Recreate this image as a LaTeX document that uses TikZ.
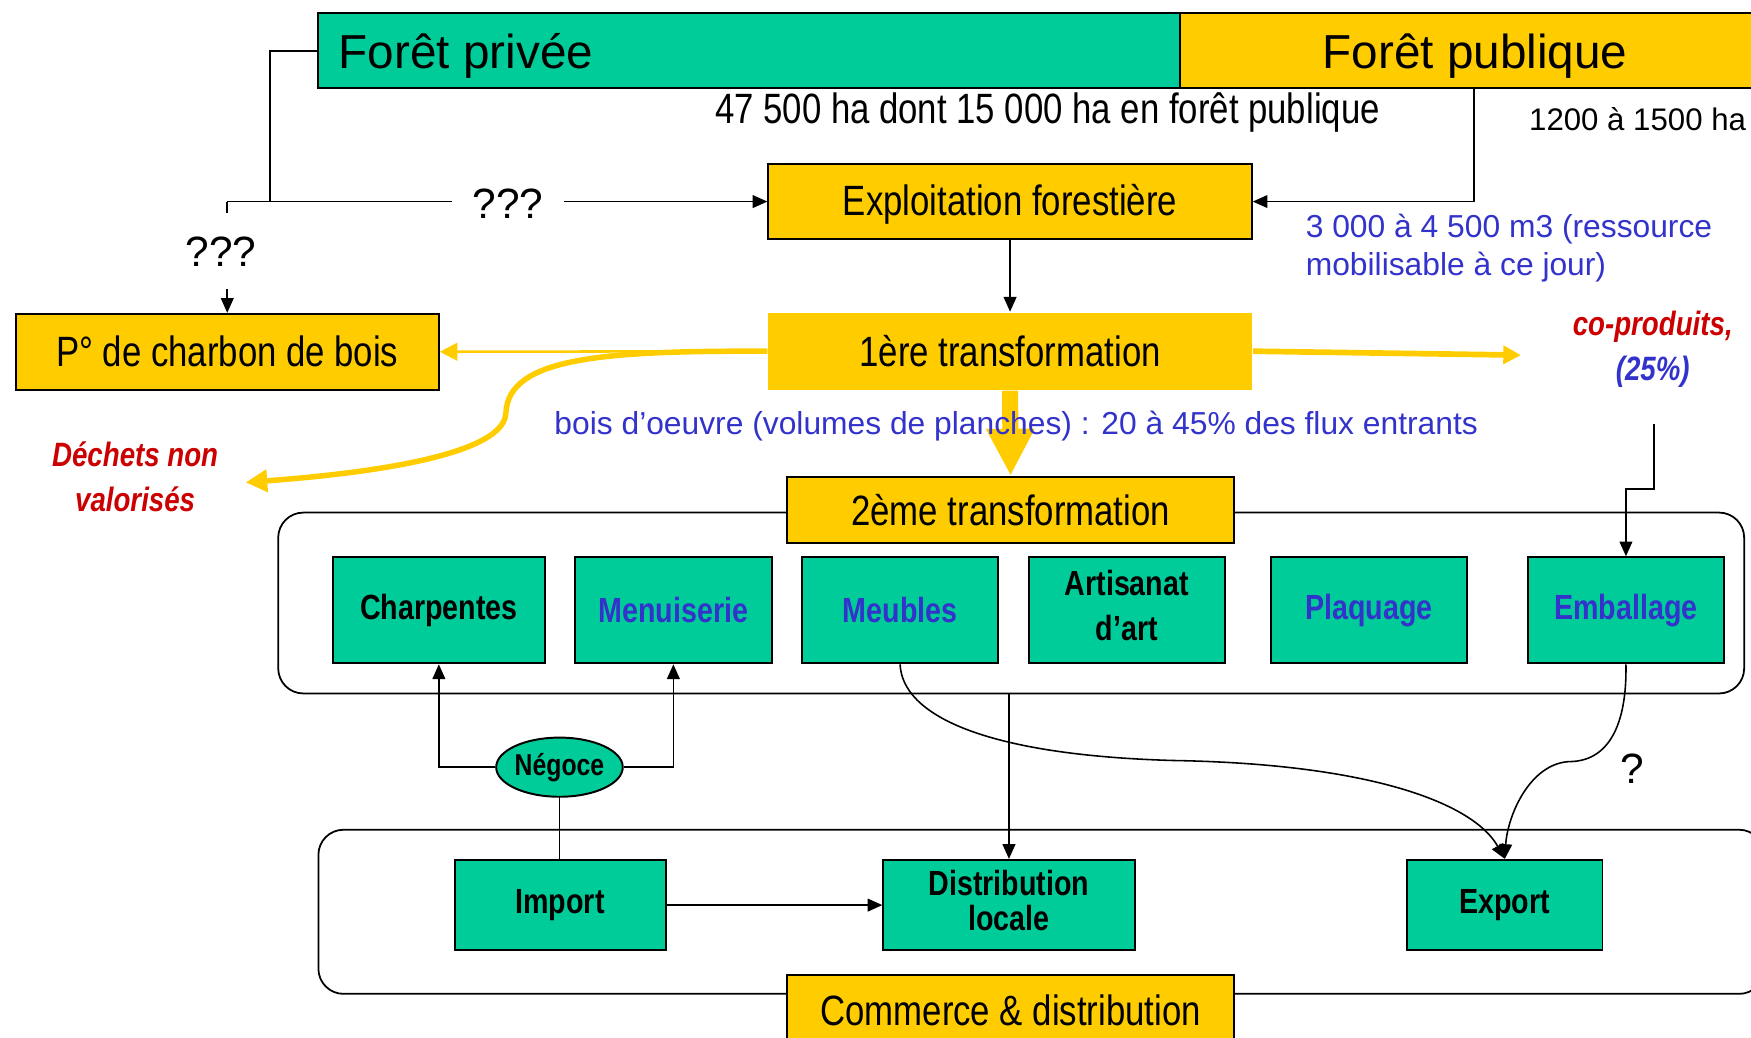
\documentclass[tikz,border=0pt]{standalone}
\usepackage{fontspec}
\setmainfont{Liberation Sans}
\newfontfamily\narrowfont[FakeStretch=0.82]{Liberation Sans}
\usetikzlibrary{arrows.meta,shapes.geometric}
\definecolor{leaf}{HTML}{00CC99}
\definecolor{gold}{HTML}{FFCC00}
\definecolor{ink}{HTML}{3333CC}
\definecolor{alert}{HTML}{CC0000}

\begin{document}
\begin{tikzpicture}[x=0.02cm,y=-0.02cm,
  ybox/.style={draw=black, line width=1pt, fill=gold, inner sep=0pt,
    font=\narrowfont\fontsize{21.6}{24}\selectfont},
  gbox/.style={draw=black, line width=1pt, fill=leaf, inner sep=0pt,
    minimum height=1.9cm, align=center,
    font=\narrowfont\bfseries\fontsize{17.8}{22.8}\selectfont},
  gtext/.style={inner sep=0pt, align=center,
    font=\narrowfont\bfseries\fontsize{17.8}{22.8}\selectfont},
  arr/.style={draw=black, line width=0.8pt, -{Triangle[length=7.5pt,width=6.5pt]}},
  link/.style={draw=black, line width=0.8pt},
  group/.style={draw=black, line width=0.9pt, rounded corners=0.45cm, inner sep=0pt},
  big/.style={font=\fontsize{24.3}{28}\selectfont},
  mid/.style={font=\fontsize{21.6}{24}\selectfont},
  small/.style={font=\fontsize{16.2}{19.3}\selectfont},
  note/.style={font=\narrowfont\bfseries\itshape\fontsize{17.2}{22.8}\selectfont, align=center},
]
\useasboundingbox (0,0) rectangle (1568,929);

% groups of activities
\node[group, minimum width=26.26cm, minimum height=3.24cm] (trans) at (905.5,540) {};
\node[group, minimum width=25.9cm, minimum height=2.94cm] (trade) at (932.5,816.5) {};

% forest ownership bar
\node[draw=black, line width=1pt, fill=leaf, minimum width=15.44cm, minimum height=1.34cm, inner sep=0pt] (privee) at (671,45.5) {};
\node[draw=black, line width=1pt, fill=gold, minimum width=10.56cm, minimum height=1.34cm, inner sep=0pt] (publique) at (1321,45.5) {};
\node[anchor=west, inner sep=0pt, big] (privee-label) at (303,50) {Forêt privée};
\node[inner sep=0pt, big] (publique-label) at (1321,50) {Forêt publique};
\node[font=\narrowfont\fontsize{21.6}{24}\selectfont] (surf) at (938,101) {47 500 ha dont 15 000 ha en forêt publique};
\node[anchor=west, inner sep=0pt, font=\fontsize{15.9}{19}\selectfont] (surfpub) at (1369,107) {1200 à 1500 ha};

% processing chain
\node[ybox, minimum width=8.66cm, minimum height=1.34cm] (expl) at (904.5,180.5) {};
\node[inner sep=0pt, font=\narrowfont\fontsize{21.6}{24}\selectfont] (expl-label) at (904.5,183) {Exploitation forestière};
\node[ybox, draw=none, minimum width=8.66cm, minimum height=1.38cm] (t1) at (904.5,314.5) {1ère transformation};
\node[ybox, minimum width=7.58cm, minimum height=1.36cm] (charbon) at (203.5,315) {P° de charbon de bois};

% wood flows out of the sawmills
\coordinate (waste) at (220,432);
\coordinate (coend) at (1362,318);
\draw[gold, line width=1.3pt, -{Triangle[length=9pt,width=9pt]}] (t1.west) -- (charbon.east);
\draw[gold, line width=2.8pt, -{Triangle[length=11pt,width=11pt]}] (t1.west)
  .. controls (540,314) and (455,320) .. (453,370)
  .. controls (451,412) and (300,426) .. (waste);
\draw[gold, line width=2.9pt, -{Triangle[length=9pt,width=9pt]}] (t1.east) -- (coend);

\node[ybox, minimum width=8cm, minimum height=1.18cm] (t2) at (905,456.5) {2ème transformation};
\draw[gold, line width=8.2pt, -{Triangle[length=24pt,width=23pt]}] (t1.south) -- (t2.north);

\node[small, text=ink] (oeuvre) at (910,382) {bois d’oeuvre (volumes de planches) : 20 à 45\% des flux entrants};

% second processing trades
\node[gbox, minimum width=3.8cm] (charp) at (393,546.5) {Charpentes};
\node[gbox, minimum width=3.52cm, text=ink] (menu) at (603,546.5) {Menuiserie};
\node[gbox, minimum width=3.52cm, text=ink] (meub) at (806,546.5) {Meubles};
\node[gbox, minimum width=3.52cm] (artis) at (1009,546.5) {};
\node[gtext, yshift=2.3pt] (artis-label) at (artis.center) {Artisanat\\d’art};
\node[gbox, minimum width=3.52cm, text=ink] (plaq) at (1226,546.5) {Plaquage};
\node[gbox, minimum width=3.52cm, text=ink] (emb) at (1456,546.5) {Emballage};

% trade and distribution
\node[ellipse, draw=black, line width=1pt, fill=leaf, minimum width=2.16cm, minimum height=1.06cm, inner sep=0pt,
  font=\narrowfont\bfseries\fontsize{15.4}{18}\selectfont] (neg) at (501,687) {Négoce};
\node[gbox, minimum width=3.78cm, minimum height=1.62cm] (import) at (501.5,810.5) {Import};
\node[gbox, minimum width=4.5cm, minimum height=1.62cm] (distrib) at (903.5,810.5) {};
\node[gtext, yshift=2.3pt, font=\narrowfont\bfseries\fontsize{17.8}{18.2}\selectfont] (distrib-label) at (distrib.center) {Distribution\\locale};
\node[gbox, minimum width=3.5cm, minimum height=1.62cm] (export) at (1347.5,810.5) {Export};
\node[ybox, minimum width=8cm, minimum height=1.34cm] (commerce) at (905,906.5) {};
\node[inner sep=0pt, font=\narrowfont\fontsize{21.6}{24}\selectfont] (commerce-label) at (905,905) {Commerce \& distribution};

% supply connectors
\coordinate (fork) at (242,180.5);
\coordinate (split) at (203.5,180.5);
\coordinate (pubdrop) at (1320,79);
\draw[link] (privee.west) -| (fork);
\draw[arr] (split) -- (expl.west);
\draw[arr] (split) -- (charbon.north);
\draw[arr] (pubdrop) |- (expl.east);
\draw[arr] (expl.south) -- (t1.north);
\node[mid, fill=white, minimum width=2cm, inner sep=0pt] (q1) at (455,182) {???};
\node[mid, fill=white, minimum height=1.36cm, inner sep=0pt] (q2) at (198,225) {???};

\node[small, text=ink, align=left, anchor=west, inner sep=0pt] (ressource) at (1169,222) {3 000 à 4 500 m3 (ressource\\mobilisable à ce jour)};
\node[note, text=alert] (coprod) at (1480,313) {co-produits,\\\textcolor{ink}{(25\%)}};
\node[note, text=alert] (dechets) at (121,427) {Déchets non\\valorisés};

\coordinate (cofeed) at (1481,380);
\draw[arr] (cofeed) -- (1481,438) -| (emb.north);

% trade connectors
\draw[arr] (neg.west) -| (charp.south);
\draw[arr] (neg.east) -| (menu.south);
\draw[link] (neg.south) -- (neg.south |- import.north);
\draw[arr] (import.east) -- (distrib.west);
\draw[arr] (distrib.north |- trans.south) -- (distrib.north);
\draw[arr] (meub.south) .. controls (808,640) and (880,676) .. (1050,681)
  .. controls (1230,684) and (1320,720) .. (export.north);
\draw[arr] (emb.south) .. controls (1457,650) and (1440,682) .. (1405,682)
  .. controls (1370,684) and (1350,730) .. (export.north);
\node[mid] (qexp) at (1462,688) {?};
\end{tikzpicture}
\end{document}
